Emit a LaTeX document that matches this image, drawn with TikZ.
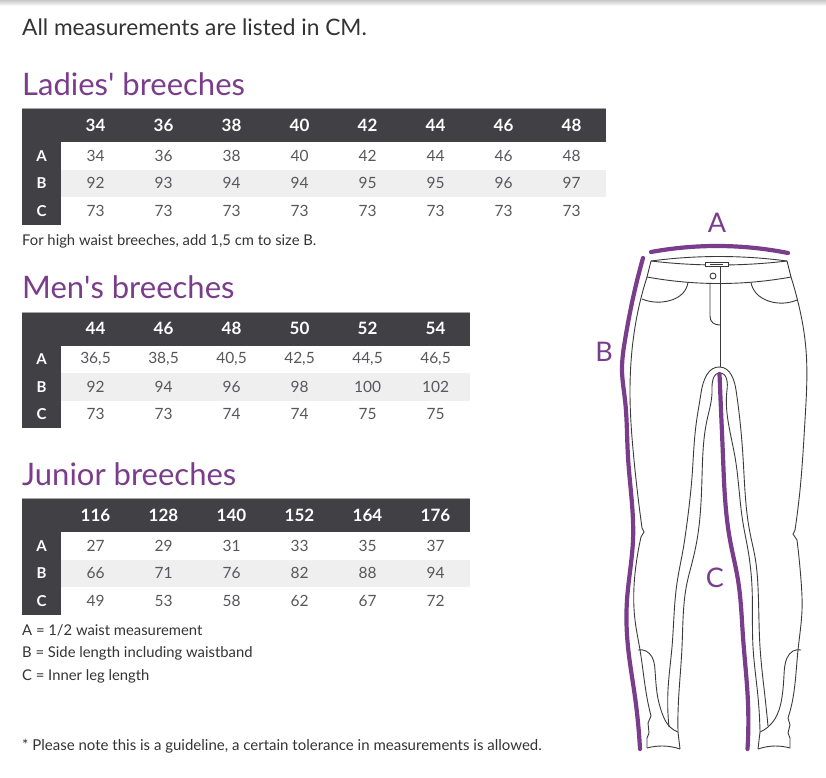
\documentclass[tikz,border=0pt]{standalone}
\usepackage{fontspec}
\setmainfont{Lato}
\usepackage{tikz}
\usetikzlibrary{hobby}
\definecolor{breechpurple}{HTML}{7A3D8C}
\definecolor{headgrey}{HTML}{414045}
\definecolor{rowgrey}{HTML}{EFEFEF}
\definecolor{cellgrey}{HTML}{58585C}
\definecolor{textgrey}{HTML}{333333}
\definecolor{seamgrey}{HTML}{3A3A3A}
\tikzset{
  headcell/.style={white, inner sep=0pt, font=\fontsize{17}{20}\selectfont\bfseries},
  cell/.style={cellgrey, inner sep=0pt, font=\fontsize{15.5}{18}\selectfont},
  rowlabel/.style={white, inner sep=0pt, font=\fontsize{15}{18}\selectfont\bfseries},
  title/.style={breechpurple, anchor=base west, inner sep=0pt, font=\fontsize{31}{36}\selectfont},
  remark/.style={textgrey, anchor=base west, inner sep=0pt, font=\fontsize{14.8}{17}\selectfont},
  tape/.style={breechpurple, line width=4.2pt, line cap=round},
  seam/.style={seamgrey, line width=0.9pt},
  tapelabel/.style={breechpurple, inner sep=0pt, font=\fontsize{27}{30}\selectfont}
}

\begin{document}
\begin{tikzpicture}[x=1pt, y=-1pt]
    \useasboundingbox (0,0) rectangle (826,777);
    \shade[top color=black!22, bottom color=white] (0,0) rectangle (826,6);

    \node[remark, font=\fontsize{22.7}{28}\selectfont] (intro) at (22,35) {All measurements are listed in CM.};

    % ladies
    \node[title] (ladies) at (22,95) {Ladies\textquotesingle{} breeches};
    \fill[rowgrey] (61,169.5) rectangle (606,197);
    \fill[headgrey] (22,108) rectangle (606,142);
    \fill[headgrey] (22,142) rectangle (61,224.5);
    \draw[gray!70, line width=0.8pt] (22,108) -- (606,108);
    \node[rowlabel] (ladies-A) at (41.5,155.75) {A};
    \node[rowlabel] (ladies-B) at (41.5,183.25) {B};
    \node[rowlabel] (ladies-C) at (41.5,210.75) {C};
    \foreach \v [count=\i] in {34,36,38,40,42,44,46,48}
        \node[headcell] (ladies-h\i) at ({95.5+68*(\i-1)},125) {\v};
    \foreach \v [count=\i] in {34,36,38,40,42,44,46,48}
        \node[cell] (ladies-a\i) at ({95.5+68*(\i-1)},155.75) {\v};
    \foreach \v [count=\i] in {92,93,94,94,95,95,96,97}
        \node[cell] (ladies-b\i) at ({95.5+68*(\i-1)},183.25) {\v};
    \foreach \v [count=\i] in {73,73,73,73,73,73,73,73}
        \node[cell] (ladies-c\i) at ({95.5+68*(\i-1)},210.75) {\v};
    \node[remark] (ladies-note) at (22,245) {For high waist breeches, add 1,5 cm to size B.};

    % men
    \node[title] (men) at (22,298) {Men\textquotesingle{}s breeches};
    \fill[rowgrey] (61,373) rectangle (470,400.5);
    \fill[headgrey] (22,312) rectangle (470,345.5);
    \fill[headgrey] (22,345.5) rectangle (61,428);
    \draw[gray!70, line width=0.8pt] (22,312) -- (470,312);
    \node[rowlabel] (men-A) at (41.5,359.25) {A};
    \node[rowlabel] (men-B) at (41.5,386.75) {B};
    \node[rowlabel] (men-C) at (41.5,414.25) {C};
    \foreach \v [count=\i] in {44,46,48,50,52,54}
        \node[headcell] (men-h\i) at ({95.5+68*(\i-1)},328.75) {\v};
    \foreach \v [count=\i] in {{36,5},{38,5},{40,5},{42,5},{44,5},{46,5}}
        \node[cell] (men-a\i) at ({95.5+68*(\i-1)},359.25) {\v};
    \foreach \v [count=\i] in {92,94,96,98,100,102}
        \node[cell] (men-b\i) at ({95.5+68*(\i-1)},386.75) {\v};
    \foreach \v [count=\i] in {73,73,74,74,75,75}
        \node[cell] (men-c\i) at ({95.5+68*(\i-1)},414.25) {\v};

    % junior
    \node[title] (junior) at (22,485) {Junior breeches};
    \fill[rowgrey] (61,559.5) rectangle (470,587);
    \fill[headgrey] (22,498) rectangle (470,532);
    \fill[headgrey] (22,532) rectangle (61,614.5);
    \draw[gray!70, line width=0.8pt] (22,498) -- (470,498);
    \node[rowlabel] (junior-A) at (41.5,545.75) {A};
    \node[rowlabel] (junior-B) at (41.5,573.25) {B};
    \node[rowlabel] (junior-C) at (41.5,600.75) {C};
    \foreach \v [count=\i] in {116,128,140,152,164,176}
        \node[headcell] (junior-h\i) at ({95.5+68*(\i-1)},515) {\v};
    \foreach \v [count=\i] in {27,29,31,33,35,37}
        \node[cell] (junior-a\i) at ({95.5+68*(\i-1)},545.75) {\v};
    \foreach \v [count=\i] in {66,71,76,82,88,94}
        \node[cell] (junior-b\i) at ({95.5+68*(\i-1)},573.25) {\v};
    \foreach \v [count=\i] in {49,53,58,62,67,72}
        \node[cell] (junior-c\i) at ({95.5+68*(\i-1)},600.75) {\v};

    \node[remark] (legend-A) at (22,635) {A = 1/2 waist measurement};
    \node[remark] (legend-B) at (22,657) {B = Side length including waistband};
    \node[remark] (legend-C) at (22,680) {C = Inner leg length};
    \node[remark, font=\fontsize{15}{17}\selectfont] (footer) at (22,750) {* Please note this is a guideline, a certain tolerance in measurements is allowed.};

    % breeches: waistband
    \draw[seam, use Hobby shortcut] (651,261) .. (720,256.5) .. (787,261);
    \draw[seam, use Hobby shortcut] (651,261) .. (720,265) .. (787,261);
    \draw[seam, fill=white] (705,262.5) rectangle (728,266.5);
    \draw[seam, line width=0.4pt] (710,264.5) -- (723,264.5);
    \draw[seam] (651,261) -- (647,277);
    \draw[seam] (787,261) -- (791,277);
    \draw[seam, use Hobby shortcut] (647,277) .. (720,283.5) .. (791,277);
    \draw[seam] (713,276) circle (3);
    \draw[seam] (720,266.5) -- (720,367);
    \draw[seam] (710,283) -- (710,316) .. controls (710,322) and (714,325) .. (720,325);
    \draw[seam, use Hobby shortcut] (688,282) .. (683,293) .. (670,300.5) .. (642,299);
    \draw[seam, use Hobby shortcut] (751,282.5) .. (756,293) .. (770,301.5) .. (797,300);

    % breeches: outer outlines
    \draw[seam, use Hobby shortcut] (647,277) .. (640,302) .. (632,350) .. (630,395) .. (634,460) .. (642,528);
    \draw[seam] (642,528) -- (644,532) -- (641,537);
    \draw[seam, use Hobby shortcut] (641,537) .. (636,565) .. (635,620) .. (640,650) .. (648,703) .. (651,716);
    \draw[seam] (651,716) -- (648,723) -- (649,733) -- (647,738) -- (647,748);
    \draw[seam, use Hobby shortcut] (791,277) .. (798,302) .. (806,350) .. (805,420) .. (800,490) .. (795,530);
    \draw[seam] (795,530) -- (793,534) -- (797,540);
    \draw[seam, use Hobby shortcut] (797,540) .. (801,580) .. (802,610) .. (798,650) .. (792,703) .. (788,718);
    \draw[seam] (788,718) -- (790,725) -- (788,733) -- (790,738) -- (790,748);

    % breeches: inner seams
    \draw[seam, use Hobby shortcut] (669,727) .. (668,690) .. (672,647) .. (677,583) .. (683,550) .. (687,523) .. (692,477) .. (696,425) .. (701,393) .. (720,367) .. (736,390) .. (743,457) .. (750,533) .. (755,557) .. (758,587) .. (760,647) .. (765,697) .. (768,726);
    \draw[seam, use Hobby shortcut] (678,732) .. (678,713) .. (682,647) .. (687,583) .. (692,563) .. (697,540) .. (702,477) .. (707,420) .. (712,390) .. (720,373) .. (727,390) .. (735,457) .. (743,523) .. (748,550) .. (752,587) .. (753,647) .. (758,697) .. (760,732);

    % breeches: knee patches and cuffs
    \draw[seam, use Hobby shortcut] (638,650) .. (646,651) .. (652,657) .. (655,670) .. (657,693) .. (662,713) .. (670,727) .. (678,732);
    \draw[seam, use Hobby shortcut] (801,650) .. (793,651) .. (787,658) .. (784,675) .. (782,697) .. (777,715) .. (768,727) .. (760,732);
    \draw[seam] (678,732) -- (680,749);
    \draw[seam] (760,732) -- (758,749);
    \draw[seam, use Hobby shortcut] (647,748) .. (663,746) .. (680,749);
    \draw[seam, use Hobby shortcut] (758,749) .. (775,746) .. (790,748);

    % measuring tapes
    \draw[tape, use Hobby shortcut] (651,252) .. (720,246) .. (788,253);
    \draw[tape, use Hobby shortcut] (643,258) .. (633,298) .. (625,340) .. (622,370) .. (625,400) .. (628,457) .. (633,540) .. (627,600) .. (628,647) .. (635,697) .. (640,749);
    \draw[tape, use Hobby shortcut] (719.5,374) .. (721,410) .. (723,457) .. (730,540) .. (738,580) .. (743,637) .. (748,703) .. (747.5,749);
    \node[tapelabel] (label-A) at (717,223) {A};
    \node[tapelabel] (label-B) at (604,352) {B};
    \node[tapelabel] (label-C) at (715,578) {C};
\end{tikzpicture}
\end{document}
